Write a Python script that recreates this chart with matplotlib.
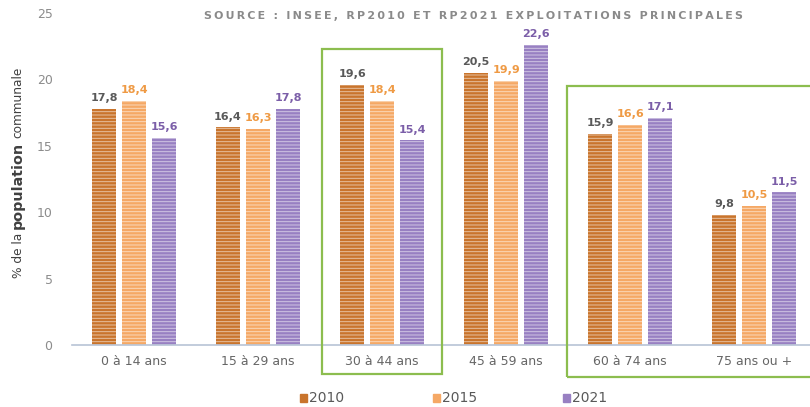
import numpy as np
import matplotlib
matplotlib.use("Agg")
import matplotlib.pyplot as plt
from matplotlib.patches import Rectangle

categories = ["0 à 14 ans", "15 à 29 ans", "30 à 44 ans", "45 à 59 ans", "60 à 74 ans", "75 ans ou +"]
years = ["2010", "2015", "2021"]
v2010 = [17.8, 16.4, 19.6, 20.5, 15.9, 9.8]
v2015 = [18.4, 16.3, 18.4, 19.9, 16.6, 10.5]
v2021 = [15.6, 17.8, 15.4, 22.6, 17.1, 11.5]
yticks = [0, 5, 10, 15, 20, 25]
title = "SOURCE : INSEE, RP2010 ET RP2021 EXPLOITATIONS PRINCIPALES"
ylabel_parts = [("% de la", "normal", 8.7), ("population", "bold", 10.3), ("communale", "normal", 8.7)]

bar_colors = ["#c9742c", "#f5a865", "#9880c2"]
label_colors = ["#595959", "#ef9a44", "#7b5ea8"]

plt.rcParams["font.family"] = ["DejaVu Sans"]
plt.rcParams["hatch.linewidth"] = 0.7

W, H = 810, 407
fig = plt.figure(figsize=(W / 100, H / 100), dpi=100)
ax = fig.add_axes([72 / W, (H - 345) / H, (810 - 72) / W, (345 - 13) / H])

x = np.arange(len(categories))
offs = [-0.242, 0.0, 0.242]
for vals, off, bc, lc in zip([v2010, v2015, v2021], offs, bar_colors, label_colors):
    bars = ax.bar(x + off, vals, width=0.195, color=bc, edgecolor=(1, 1, 1, 0.55),
                  linewidth=0, hatch="-----")
    for b, v in zip(bars, vals):
        ax.annotate(f"{v:.1f}".replace(".", ","), (b.get_x() + b.get_width() / 2, v),
                    xytext=(0, 4), textcoords="offset points", ha="center", va="bottom",
                    fontsize=8, fontweight="bold", color=lc)

ax.set_xlim(-0.5, 5.45)
ax.set_ylim(0, 25)
ax.set_yticks(yticks)
ax.set_yticklabels([str(t) for t in yticks], color="#8c8c8c", fontsize=9)
ax.set_xticks(x)
ax.set_xticklabels(categories, color="#666666", fontsize=9)
ax.tick_params(axis="y", length=0, pad=14)
ax.tick_params(axis="x", length=0, pad=7)
for s in ["top", "right", "left"]:
    ax.spines[s].set_visible(False)
ax.spines["bottom"].set_color("#b8c4d6")
ax.spines["bottom"].set_linewidth(1.2)

# y label: pieces stacked bottom to top, "population" in bold
renderer = fig.canvas.get_renderer()
ypos = H - 278
for txt, wt, fs in ylabel_parts:
    t = fig.text(18 / W, ypos / H, txt, rotation=90, ha="center", va="bottom",
                 fontsize=fs, fontweight=wt, color="#404040")
    ext = t.get_window_extent(renderer)
    ypos = ext.y1 + 4

# letter-spaced source line
fig.text(473 / W, 1 - 16 / H, "\u2009".join(title), ha="center", va="center",
         fontsize=7.9, color="#8a8a8a", fontweight="bold")

# green highlight boxes
green = "#8cbd4f"
for (x0, y0, x1, y1) in [(322, 49, 442, 374), (567, 86, 830, 377)]:
    fig.add_artist(Rectangle((x0 / W, 1 - y1 / H), (x1 - x0) / W, (y1 - y0) / H,
                             transform=fig.transFigure, fill=False, edgecolor=green,
                             linewidth=1.6, clip_on=False))

# legend
for (lx, yr, c) in zip([300, 433, 563], years, bar_colors):
    fig.add_artist(Rectangle((lx / W, 1 - 402 / H), 7 / W, 8 / H, transform=fig.transFigure,
                             color=c))
    fig.text((lx + 9) / W, 1 - 398 / H, yr, ha="left", va="center", fontsize=10,
             color="#595959")

fig.savefig("out.png", dpi=100)
